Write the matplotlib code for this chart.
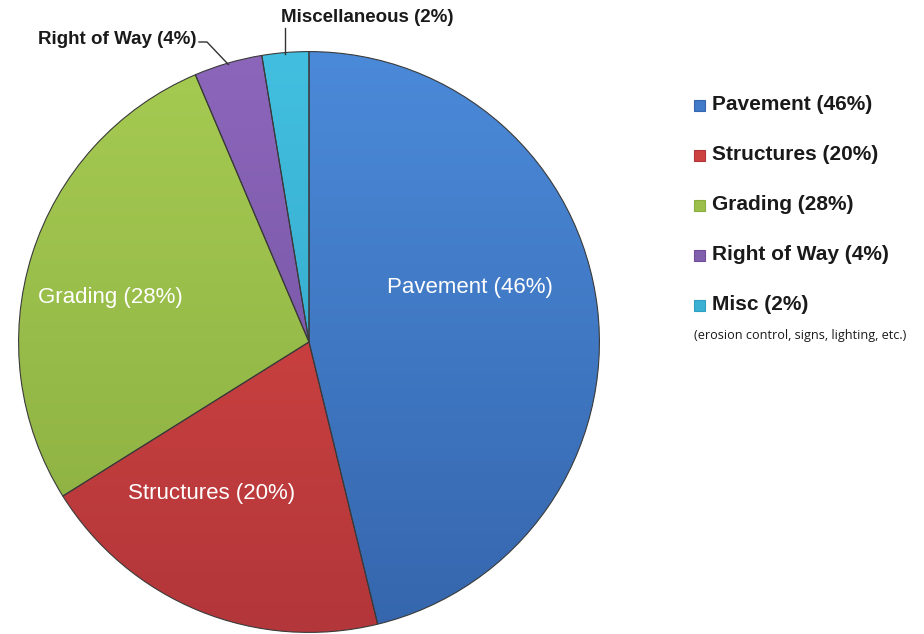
import numpy as np
import matplotlib
matplotlib.use("Agg")
import matplotlib.pyplot as plt
from matplotlib.colors import to_rgb
from matplotlib.lines import Line2D

plt.rcParams['font.family'] = ['Liberation Sans', 'DejaVu Sans']

categories = ["Pavement", "Structures", "Grading", "Right of Way", "Miscellaneous"]
values = [46.2, 19.9, 27.5, 3.8, 2.6]
inner_labels = ["Pavement (46%)", "Structures (20%)", "Grading (28%)", None, None]
legend_labels = ["Pavement (46%)", "Structures (20%)", "Grading (28%)", "Right of Way (4%)", "Misc (2%)"]
outer_labels = {3: "Right of Way (4%)", 4: "Miscellaneous (2%)"}
footnote = "(erosion control, signs, lighting, etc.)"

top_colors = ["#4b8ad9", "#dc4a44", "#a6cb52", "#8c66bb", "#42bfe0"]
bot_colors = ["#3566ad", "#b3363a", "#8aad40", "#6f4f9c", "#2f9fc0"]
base_colors = ["#407ac8", "#cc4240", "#9cbe4b", "#8060ad", "#3cb0d2"]

W, H = 924, 634
fig = plt.figure(figsize=(W / 100, H / 100), dpi=100)
cx, cy, R = 309, 342, 291
ax = fig.add_axes([(cx - R) / W, (H - cy - R) / H, 2 * R / W, 2 * R / H])

wedges, _ = ax.pie(values, startangle=90, counterclock=False, radius=1,
                   colors=base_colors,
                   wedgeprops=dict(edgecolor="#3a3a3a", linewidth=0.8))

# vertical gradient fill clipped to each wedge
yy = np.linspace(1, 0, 256)[:, None]
for w, tc, bc in zip(wedges, top_colors, bot_colors):
    t = np.array(to_rgb(tc)); b = np.array(to_rgb(bc))
    img = (yy[..., None] * t + (1 - yy[..., None]) * b) * np.ones((1, 2, 1))
    im = ax.imshow(img, extent=(-1, 1, -1, 1), origin='upper', aspect='auto',
                   zorder=w.get_zorder() + 0.1, interpolation='bilinear')
    im.set_clip_path(w)
    w.set_zorder(w.get_zorder() + 0.2)
    w.set_facecolor('none')

ax.set_xlim(-1.002, 1.002)
ax.set_ylim(-1.002, 1.002)
ax.set_aspect('equal')
ax.axis('off')

# inner labels
inner_pos = {0: (470, 287), 1: (212, 494), 2: (110, 297)}
for i, lab in enumerate(inner_labels):
    if lab:
        x, y = inner_pos[i]
        fig.text(x / W, 1 - y / H, lab, color='white', fontsize=16,
                 ha='center', va='center', zorder=10)

# outer labels with leader lines
total = sum(values)
cum = np.cumsum([0] + values)
def mid_point(i):
    a = np.deg2rad(90 - 360 * (cum[i] + values[i] / 2) / total)
    return np.cos(a), np.sin(a)

# Right of Way
fig.text(197 / W, 1 - 39 / H, outer_labels[3], fontsize=13.5, fontweight='bold',
         ha='right', va='center', color='#1a1a1a')
mx, my = mid_point(3)
px, py = ax.transData.transform((mx * 0.995, my * 0.995))
fig.add_artist(Line2D([199 / W, 207 / W, px / W], [1 - 42 / H, 1 - 42 / H, py / H],
                      color='#333333', lw=1, transform=fig.transFigure))
# Miscellaneous
fig.text(367 / W, 1 - 18 / H, outer_labels[4], fontsize=13.5, fontweight='bold',
         ha='center', va='center', color='#1a1a1a')
mx, my = mid_point(4)
px, py = ax.transData.transform((mx * 0.995, my * 0.995))
fig.add_artist(Line2D([px / W, px / W], [1 - 28 / H, py / H],
                      color='#333333', lw=1, transform=fig.transFigure))

# legend
leg_y = [105, 155, 205, 255, 305]
for lab, c, bc, y in zip(legend_labels, base_colors, bot_colors, leg_y):
    fig.add_artist(plt.Rectangle((694 / W, 1 - (y + 6) / H), 11 / W, 11 / H,
                                 facecolor=c, edgecolor=bc, lw=0.8,
                                 transform=fig.transFigure))
    fig.text(712 / W, 1 - y / H, lab, fontsize=15, fontweight='bold',
             ha='left', va='center', color='#1a1a1a')
fig.text(694 / W, 1 - 336 / H, footnote, fontsize=9.1, family=['Open Sans', 'DejaVu Sans'],
         ha='left', va='center', color='#1a1a1a')

fig.savefig("out.png", dpi=100)
